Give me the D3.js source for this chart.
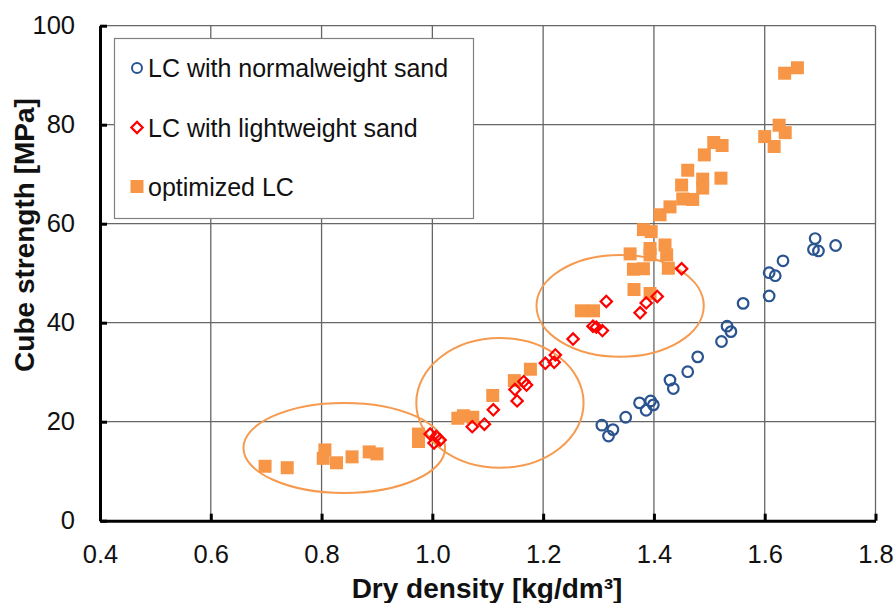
<!DOCTYPE html>
<html><head><meta charset="utf-8">
<script src="https://cdn.jsdelivr.net/npm/d3@7"></script>
<style>body{margin:0;background:#fff;}svg{display:block;font-family:Arial,"Liberation Sans",sans-serif;}</style>
</head><body><svg id="c" width="894" height="603"></svg>
<script>
// Data
const normalDensity = [1.306,1.318,1.326,1.349,1.374,1.386,1.394,1.399,1.429,1.435,1.461,1.479,1.522,1.532,1.539,1.561,1.608,1.608,1.619,1.633,1.691,1.688,1.697,1.728];
const normalStrength = [19.3,17.1,18.4,20.9,23.8,22.3,24.2,23.4,28.4,26.7,30.1,33.1,36.2,39.3,38.2,43.9,45.4,50.1,49.5,52.5,57.0,54.8,54.5,55.6];
const lightDensity = [0.996,1.003,1.014,1.007,1.072,1.094,1.110,1.153,1.149,1.170,1.165,1.204,1.220,1.222,1.254,1.290,1.296,1.307,1.314,1.375,1.386,1.406,1.450];
const lightStrength = [17.5,15.7,16.3,17.0,19.0,19.5,22.4,24.2,26.5,27.4,28.1,31.8,32.0,33.5,36.7,39.3,39.1,38.4,44.3,42.0,44.0,45.3,50.9];
const optDensity = [0.698,0.738,0.806,0.803,0.827,0.855,0.886,0.900,0.975,0.975,1.046,1.056,1.073,1.109,1.148,1.177,1.269,1.291,1.357,1.363,1.381,1.364,1.393,1.393,1.420,1.393,1.423,1.426,1.381,1.395,1.411,1.429,1.452,1.470,1.450,1.461,1.488,1.488,1.521,1.491,1.508,1.523,1.600,1.626,1.637,1.617,1.636,1.659];
const optStrength = [11.0,10.7,14.3,12.6,11.7,12.9,13.9,13.5,17.5,16.0,20.7,21.2,20.9,25.3,28.3,30.6,42.4,42.4,53.9,50.8,50.9,46.7,45.9,55.0,55.7,53.7,53.7,51.0,58.8,58.4,61.8,63.4,65.0,64.9,67.8,70.8,69.0,67.2,69.2,73.9,76.4,75.8,77.6,79.9,78.4,75.6,90.4,91.5];
// Ellipse annotations: centre density, centre strength, half-width (density), half-height (strength)
const ellCx = [0.841,1.122,1.339];
const ellCy = [14.7,23.8,43.4];
const ellRx = [0.182,0.151,0.151];
const ellRy = [9.1,13.1,10.3];
const xTicks = [0.4,0.6,0.8,1.0,1.2,1.4,1.6,1.8];
const yTicks = [0,20,40,60,80,100];
const seriesNames = ["LC with normalweight sand","LC with lightweight sand","optimized LC"];

const svg = d3.select("#c");
const L=100,R=875.5,T=25.7,B=520.7;
const x = d3.scaleLinear().domain([0.4,1.8]).range([L,R]);
const y = d3.scaleLinear().domain([0,100]).range([B,T]);
const orange="#f79646", red="#ff0000", blue="#2a5490";
const FONT="Arial, 'Liberation Sans', sans-serif";

// grid
svg.append("g").selectAll("line.v").data(xTicks).join("line")
  .attr("x1",d=>x(d)).attr("x2",d=>x(d)).attr("y1",T).attr("y2",B)
  .attr("stroke","#666").attr("stroke-width",1.3);
svg.append("g").selectAll("line.h").data(yTicks).join("line")
  .attr("x1",L).attr("x2",R).attr("y1",d=>y(d)).attr("y2",d=>y(d))
  .attr("stroke","#666").attr("stroke-width",1.3);

// axes
const xAxis = d3.axisBottom(x).tickValues(xTicks).tickFormat(d3.format(".1f")).tickSizeInner(-7).tickSizeOuter(0).tickPadding(24);
const gx = svg.append("g").attr("transform",`translate(0,${B})`).call(xAxis);
const yAxis = d3.axisLeft(y).tickValues(yTicks).tickFormat(d3.format("d")).tickSizeInner(-7).tickSizeOuter(0).tickPadding(25);
const gy = svg.append("g").attr("transform",`translate(${L},0)`).call(yAxis);
[gx,gy].forEach(g=>{
  g.select(".domain").attr("stroke","#000").attr("stroke-width",3);
  g.selectAll(".tick line").attr("stroke","#000").attr("stroke-width",3);
  g.selectAll(".tick text").attr("font-size",25.5).attr("fill","#111").attr("font-family",FONT);
});
gx.selectAll(".tick text").attr("dy","0.71em");

// ellipses
svg.append("g").selectAll("ellipse").data(ellCx).join("ellipse")
  .attr("cx",(d,i)=>x(d)).attr("cy",(d,i)=>y(ellCy[i]))
  .attr("rx",(d,i)=>x(d+ellRx[i])-x(d)).attr("ry",(d,i)=>y(0)-y(ellRy[i]))
  .attr("fill","none").attr("stroke","#f59a4f").attr("stroke-width",2);

// series
const S=13;
svg.append("g").selectAll("rect").data(optDensity).join("rect")
  .attr("x",(d,i)=>x(d)-S/2).attr("y",(d,i)=>y(optStrength[i])-S/2)
  .attr("width",S).attr("height",S).attr("fill",orange);
const dsym = d3.symbol().type(d3.symbolSquare).size(64);
svg.append("g").selectAll("path").data(lightDensity).join("path")
  .attr("d",dsym).attr("transform",(d,i)=>`translate(${x(d)},${y(lightStrength[i])}) rotate(45)`)
  .attr("fill","none").attr("stroke",red).attr("stroke-width",2.2);
svg.append("g").selectAll("circle").data(normalDensity).join("circle")
  .attr("cx",d=>x(d)).attr("cy",(d,i)=>y(normalStrength[i])).attr("r",5.3)
  .attr("fill","none").attr("stroke",blue).attr("stroke-width",2.2);

// legend
const lg = svg.append("g");
lg.append("rect").attr("x",114.5).attr("y",38.5).attr("width",359).attr("height",180)
  .attr("fill","#fff").attr("stroke","#808080").attr("stroke-width",1.2);
const rows=[68,127.5,186.5];
lg.append("circle").attr("cx",137).attr("cy",rows[0]).attr("r",5).attr("fill","none").attr("stroke",blue).attr("stroke-width",2);
lg.append("path").attr("d",dsym).attr("transform",`translate(137,${rows[1]}) rotate(45)`).attr("fill","none").attr("stroke",red).attr("stroke-width",2.2);
lg.append("rect").attr("x",137-6.5).attr("y",rows[2]-6.5).attr("width",13).attr("height",13).attr("fill",orange);
lg.selectAll("text").data(seriesNames).join("text")
  .attr("x",148).attr("y",(d,i)=>rows[i]).attr("dy","0.36em")
  .attr("font-size",25).attr("fill","#111").text(d=>d);

// axis titles
svg.append("text").attr("x",487).attr("y",598).attr("text-anchor","middle")
  .attr("font-size",28).attr("font-weight","bold").attr("fill","#111").text("Dry density [kg/dm³]");
svg.append("text").attr("transform","translate(34,235) rotate(-90)").attr("text-anchor","middle")
  .attr("font-size",28).attr("font-weight","bold").attr("fill","#111").text("Cube strength [MPa]");
</script></body></html>
